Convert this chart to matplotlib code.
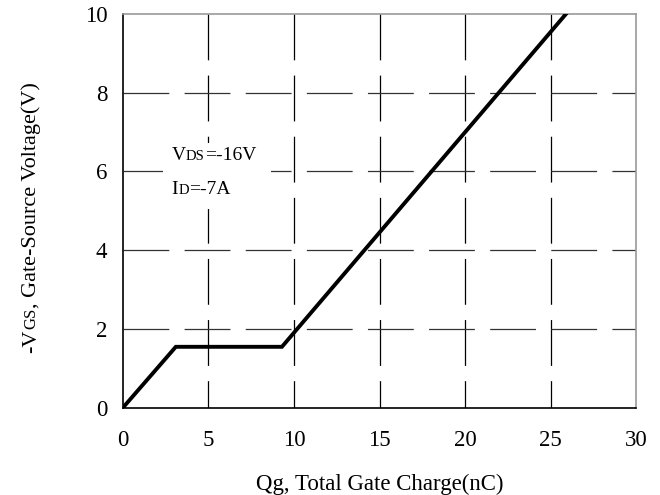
import matplotlib

matplotlib.use("Agg")
import matplotlib.pyplot as plt
from matplotlib.patches import Rectangle
from matplotlib.transforms import offset_copy

# gate charge curve
qg = [0.0, 3.1, 9.3, 25.9]
vgs = [0.0, 1.55, 1.55, 10.0]

xticks = [0, 5, 10, 15, 20, 25, 30]
yticks = [0, 2, 4, 6, 8, 10]

plt.rcParams.update({
    "font.family": ["Liberation Serif", "DejaVu Serif"],
    "font.size": 16.5,
    "lines.scale_dashes": False,
})

fig = plt.figure(figsize=(6.6, 4.95), dpi=100)
ax = fig.add_axes([0.186, 0.176, 0.778, 0.796])

dash = (0, (33, 11))
for x in xticks[1:-1]:
    # drawn top-down so the dash pattern starts at the top edge
    ax.plot([x, x], [10, 0], color="black", lw=0.9, linestyle=dash, zorder=1)
for y in yticks[1:-1]:
    ax.plot([0, 30], [y, y], color="#333333", lw=0.9, linestyle=dash, zorder=1)

# white patch behind the test-condition note
ax.add_patch(Rectangle((2.35, 5.05), 6.3, 1.68, facecolor="white", edgecolor="none", zorder=2))

ax.plot(qg, vgs, color="black", lw=2.8, solid_joinstyle="miter", zorder=3)

ax.set_xlim(0, 30)
ax.set_ylim(0, 10)
ax.set_xticks(xticks)
ax.set_yticks(yticks)
ax.tick_params(axis="x", length=0, pad=16)
ax.tick_params(axis="y", length=0, pad=11)
for side in ("top", "right"):
    ax.spines[side].set_color("#999999")
    ax.spines[side].set_linewidth(1.2)
for side in ("left", "bottom"):
    ax.spines[side].set_color("black")
    ax.spines[side].set_linewidth(1.2)

ax.set_xlabel("Qg, Total Gate Charge(nC)", labelpad=16)

fig.canvas.draw()
renderer = fig.canvas.get_renderer()


def chain(parts, x, y, transform, rotation=0):
    # write text pieces one after another, smaller pieces for subscripts
    trans = transform
    for s, size in parts:
        t = fig.text(x, y, s, fontsize=size, transform=trans, rotation=rotation,
                     rotation_mode="anchor", ha="left", va="baseline", zorder=4)
        bb = t.get_window_extent(renderer)
        if rotation == 0:
            trans = offset_copy(trans, fig=fig, x=bb.width * 72 / fig.dpi, y=0, units="points")
        else:
            trans = offset_copy(trans, fig=fig, x=0, y=bb.height * 72 / fig.dpi, units="points")


chain([("V", 14), ("DS", 10.5), ("=-16V", 14)], 2.85, 6.28, ax.transData)
chain([("I", 14), ("D", 10.5), ("=-7A", 14)], 2.85, 5.44, ax.transData)

# rotated y label, starting from the bottom
chain([("-V", 16), ("GS", 12), (", Gate-Source Voltage(V)", 16)], 0.054, 0.287,
      fig.transFigure, rotation=90)

fig.savefig("out.png", dpi=100)
